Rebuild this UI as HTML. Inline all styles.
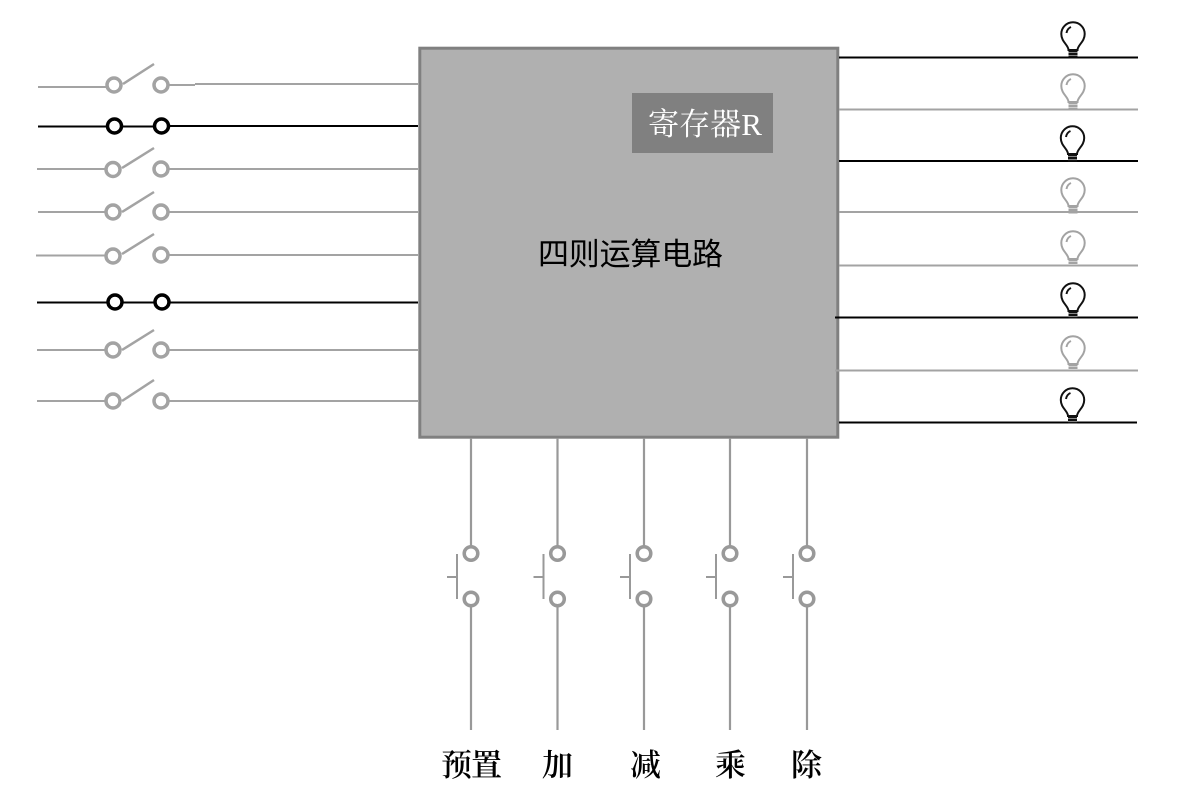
<!DOCTYPE html>
<html><head><meta charset="utf-8"><style>html,body{margin:0;padding:0;background:#fff}svg{display:block}
.s{font-family:"Liberation Serif","Noto Serif CJK SC",serif}
.h{font-family:"Liberation Sans","Noto Sans CJK SC",sans-serif}</style></head><body>
<svg width="1178" height="808" viewBox="0 0 1178 808" xmlns="http://www.w3.org/2000/svg">
<defs>
<g id="bulb" fill="none" stroke-width="2">
<path d="M-4.500 17 C-4.500 12 -11.700 9 -11.700 1 A11.700 11.700 0 1 1 11.700 1 C11.700 9 4.500 12 4.500 17 Z"/>
<path d="M-6.500 0 C-6 -3 -4.500 -5 -2 -6" stroke-width="2"/>
<path d="M-4.500 18.500H4.500M-4.500 21H4.500M-4.500 23.500H4.500" stroke-width="2"/>
</g>
<g id="push" fill="none" stroke="#999" stroke-width="2.200">
<path d="M0 438V547M0 606V730"/>
<circle cx="0" cy="553.500" r="6.800" stroke-width="3.500"/><circle cx="0" cy="599" r="6.800" stroke-width="3.500"/>
<path d="M-14 554V599M-24 577H-14" stroke-width="2"/>
</g>
</defs>
<rect x="419.800" y="48.200" width="418" height="389" fill="#b0b0b0" stroke="#808080" stroke-width="3"/>
<rect x="632" y="93" width="141" height="60" fill="#808080"/>
<text class="s" x="648" y="135" font-size="31" fill="#fff" textLength="114" lengthAdjust="spacingAndGlyphs">寄存器R</text>
<text class="h" x="538" y="265" font-size="31" fill="#000" textLength="185">四则运算电路</text>

<g fill="none" stroke="#a3a3a3" stroke-width="2">
<path d="M38 87H107M168 85H195M195 84H418"/>
<path d="M37 169H106M168 169H418"/>
<path d="M38 212H106M168 212H418"/>
<path d="M36 255.500H106M168 255H418"/>
<path d="M37 350H106M168 350H418"/>
<path d="M37 401H106M168 401H418"/>
<path d="M839 109.500H1138M839 212H1138M839 265.500H1138M835 370.500H1138"/>
</g>
<g fill="none" stroke="#a3a3a3" stroke-width="3.500">
<circle cx="114" cy="85" r="7"/><circle cx="161" cy="85" r="7"/>
<circle cx="113" cy="169.500" r="7"/><circle cx="161" cy="169" r="7"/>
<circle cx="113" cy="212" r="7"/><circle cx="161" cy="212" r="7"/>
<circle cx="113" cy="256" r="7"/><circle cx="161" cy="255" r="7"/>
<circle cx="113" cy="350" r="7"/><circle cx="161" cy="350" r="7"/>
<circle cx="113" cy="401" r="7"/><circle cx="161" cy="401" r="7"/>
</g>
<g fill="none" stroke="#a3a3a3" stroke-width="2.500">
<path d="M123 84L154 64M122 168L154 148M122 212L154 192M122 254L154 234M122 350L154 330M122 401L154 380"/>
</g>
<g fill="none" stroke="#000" stroke-width="2">
<path d="M38 126.500H107M121 126.500H154M169 126H418"/>
<path d="M37 302.500H108M122 302.500H155M170 302.500H418"/>
<path d="M839 57.500H1138M839 161H1138M835 317.500H1138M839 422.500H1137"/>
</g>
<g fill="none" stroke="#000" stroke-width="3.500">
<circle cx="114.500" cy="126" r="7"/><circle cx="161.500" cy="126" r="7"/>
<circle cx="115" cy="302" r="7"/><circle cx="162" cy="302" r="7"/>
</g>
<use href="#bulb" x="1073" y="33" stroke="#111"/>
<use href="#bulb" x="1073" y="85" stroke="#a3a3a3"/>
<use href="#bulb" x="1072.500" y="137" stroke="#111"/>
<use href="#bulb" x="1073" y="189" stroke="#a3a3a3"/>
<use href="#bulb" x="1073" y="242" stroke="#a3a3a3"/>
<use href="#bulb" x="1073" y="294" stroke="#111"/>
<use href="#bulb" x="1073" y="347" stroke="#a3a3a3"/>
<use href="#bulb" x="1072.500" y="399" stroke="#111"/>
<use href="#push" x="471"/>
<use href="#push" x="557.500"/>
<use href="#push" x="644"/>
<use href="#push" x="730"/>
<use href="#push" x="807"/>
<g class="s" font-size="31" fill="#000" font-weight="600">
<text x="441" y="776" textLength="61">预置</text>
<text x="542" y="776">加</text>
<text x="630" y="776">减</text>
<text x="715" y="776">乘</text>
<text x="791" y="776">除</text>
</g>
</svg>
</body></html>
